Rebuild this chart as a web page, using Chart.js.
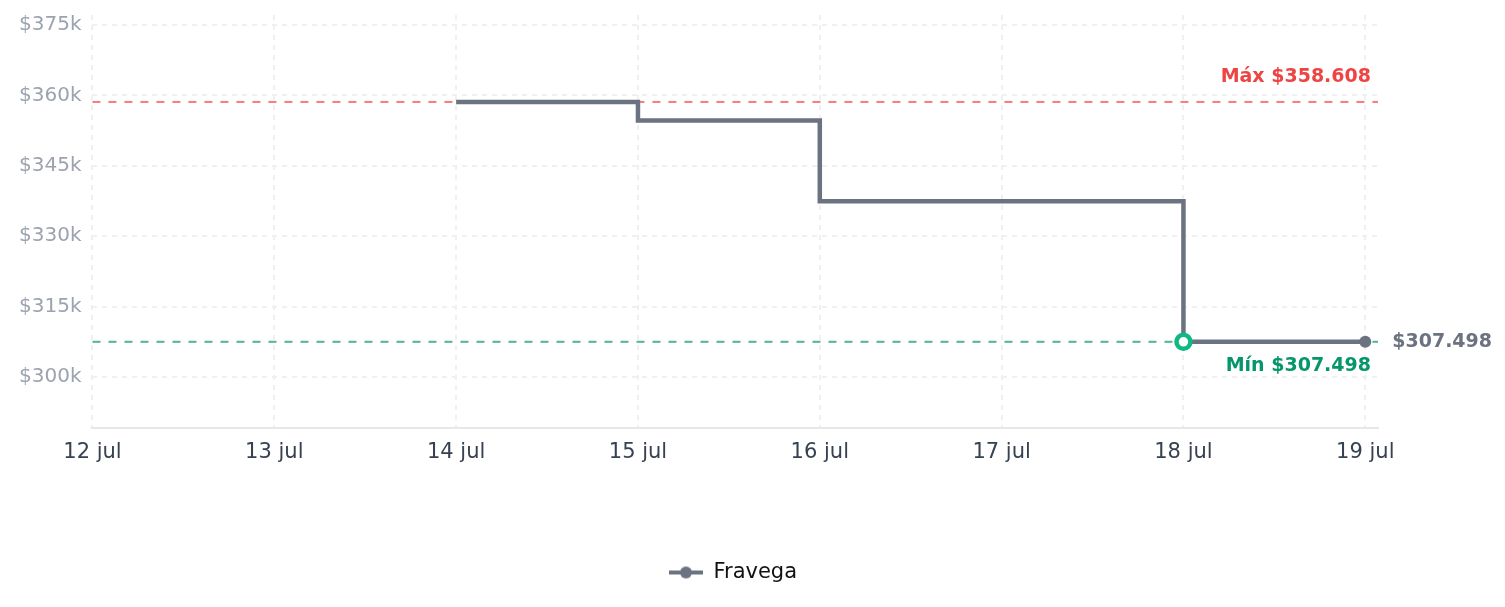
<!DOCTYPE html>
<html>
<head>
<meta charset="utf-8">
<script src="https://cdn.jsdelivr.net/npm/chart.js@4/dist/chart.umd.min.js"></script>
<style>
  html, body { margin: 0; padding: 0; background: #fff; }
  #wrap { width: 1505px; height: 607px; position: relative; }
</style>
</head>
<body>
<div id="wrap"><canvas id="priceChart"></canvas></div>
<script>
// Historial de precios — Fravega
const dates = ['12 jul', '13 jul', '14 jul', '15 jul', '16 jul', '17 jul', '18 jul', '19 jul'];
const fravega = [null, null, 358608, 354650, 337440, 337440, 307498, 307498];
const yTicks = [300000, 315000, 330000, 345000, 360000, 375000];

const GRAY = '#6b7280';
const RED = '#ef4444';
const GREEN = '#059669';

const fmtMoney = n => '$' + String(Math.round(n)).replace(/\B(?=(\d{3})+(?!\d))/g, '.');

const valid = fravega.filter(v => v !== null);
const maxPrice = Math.max(...valid);
const minPrice = Math.min(...valid);
const minIdx = fravega.indexOf(minPrice);
const lastIdx = fravega.length - 1;

// legend icon: line with a dot in the middle
function legendIcon() {
    const c = document.createElement('canvas');
    c.width = 34; c.height = 14;
    const g = c.getContext('2d');
    g.strokeStyle = GRAY;
    g.lineWidth = 4;
    g.beginPath(); g.moveTo(0, 7); g.lineTo(34, 7); g.stroke();
    g.fillStyle = GRAY;
    g.beginPath(); g.arc(17, 7, 6, 0, Math.PI * 2); g.fill();
    return c;
}

// Max / min reference lines and the label of the last price
const refLines = {
    id: 'refLines',
    afterLayout(chart) {
        // legend sits a bit right of the plot centre
        if (chart.legend) chart.legend.left += 80;
    },
    beforeDatasetsDraw(chart) {
        const { ctx, chartArea, scales } = chart;
        const yMax = scales.y.getPixelForValue(maxPrice);
        const yMin = scales.y.getPixelForValue(minPrice);
        ctx.save();
        ctx.lineWidth = 2;
        ctx.setLineDash([8, 8]);
        ctx.strokeStyle = 'rgba(239, 68, 68, 0.7)';
        ctx.beginPath(); ctx.moveTo(chartArea.left, yMax); ctx.lineTo(chartArea.right, yMax); ctx.stroke();
        ctx.strokeStyle = 'rgba(5, 150, 105, 0.7)';
        ctx.beginPath(); ctx.moveTo(chartArea.left, yMin); ctx.lineTo(chartArea.right, yMin); ctx.stroke();
        ctx.restore();
    },
    afterDatasetsDraw(chart) {
        const { ctx, chartArea, scales } = chart;
        const yMax = scales.y.getPixelForValue(maxPrice);
        const yMin = scales.y.getPixelForValue(minPrice);
        ctx.save();
        ctx.font = 'bold 19px "DejaVu Sans"';
        ctx.textBaseline = 'middle';
        ctx.textAlign = 'right';
        ctx.fillStyle = RED;
        ctx.fillText('Máx ' + fmtMoney(maxPrice), chartArea.right - 7, yMax - 25);
        ctx.fillStyle = GREEN;
        ctx.fillText('Mín ' + fmtMoney(minPrice), chartArea.right - 7, yMin + 24);
        const xl = scales.x.getPixelForValue(lastIdx);
        const yl = scales.y.getPixelForValue(fravega[lastIdx]);
        ctx.textAlign = 'left';
        ctx.fillStyle = GRAY;
        ctx.fillText(fmtMoney(fravega[lastIdx]), xl + 27, yl);
        ctx.restore();
    }
};

Chart.defaults.font.family = '"DejaVu Sans"';
Chart.defaults.font.size = 20;

new Chart(document.getElementById('priceChart'), {
    type: 'line',
    data: {
        datasets: [{
            label: 'Fravega',
            data: dates.map((d, i) => ({ x: i, y: fravega[i] })),
            borderColor: GRAY,
            backgroundColor: GRAY,
            borderWidth: 4.5,
            stepped: true,
            fill: false,
            pointRadius: c => c.dataIndex === minIdx ? 7 : (c.dataIndex === lastIdx ? 6 : 0),
            pointHoverRadius: 0,
            pointBackgroundColor: c => c.dataIndex === minIdx ? '#ffffff' : GRAY,
            pointBorderColor: c => c.dataIndex === minIdx ? '#10b981' : GRAY,
            pointBorderWidth: c => c.dataIndex === minIdx ? 4.5 : 0
        }]
    },
    options: {
        responsive: true,
        maintainAspectRatio: false,
        animation: false,
        layout: { padding: { left: 8, right: 127, top: 0, bottom: 14 } },
        scales: {
            x: {
                type: 'linear',
                min: 0,
                max: 7.07,
                afterFit(scale) { scale.height = 124; },
                ticks: {
                    stepSize: 1,
                    includeBounds: false,
                    color: '#374151',
                    padding: 12,
                    maxRotation: 0,
                    font: { size: 21 },
                    callback: v => dates[v]
                },
                grid: { color: '#f0f0f0', lineWidth: 2, drawTicks: false },
                border: { display: true, color: '#e5e7eb', width: 2, dash: [5, 5] }
            },
            y: {
                min: 289130,
                max: 377130,
                afterBuildTicks(scale) { scale.ticks = yTicks.map(v => ({ value: v })); },
                afterFit(scale) { scale.paddingTop = 15; scale.paddingBottom = 0; },
                ticks: {
                    color: '#9ca3af',
                    padding: 11,
                    callback: v => '$' + (v / 1000) + 'k'
                },
                grid: { color: '#f0f0f0', lineWidth: 2, drawTicks: false },
                border: { display: false, dash: [5, 5] }
            }
        },
        plugins: {
            tooltip: { enabled: false },
            legend: {
                position: 'bottom',
                labels: {
                    color: '#111111',
                    font: { size: 21 },
                    usePointStyle: true,
                    pointStyleWidth: 34,
                    padding: 10,
                    generateLabels: () => [{
                        text: 'Fravega',
                        pointStyle: legendIcon(),
                        fillStyle: GRAY,
                        strokeStyle: GRAY,
                        lineWidth: 0,
                        hidden: false,
                        datasetIndex: 0,
                        fontColor: '#111111'
                    }]
                }
            }
        }
    },
    plugins: [refLines]
});
</script>
</body>
</html>
